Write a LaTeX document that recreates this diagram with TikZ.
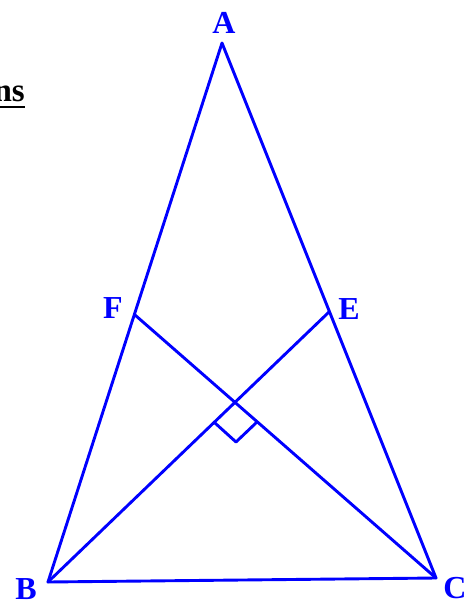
\documentclass[tikz,border=0pt]{standalone}
\usepackage{fontspec}
\setmainfont{Liberation Serif}
\begin{document}
\begin{tikzpicture}[x=1pt,y=-1pt,
  edge/.style={draw=blue,line width=2.9pt,line cap=round,line join=round},
  lbl/.style={text=blue,font=\fontsize{32}{32}\selectfont\bfseries,inner sep=0pt}]
\useasboundingbox (0,0) rectangle (472,603);
\clip (0,0) rectangle (472,603);
\coordinate (A) at (222,43);
\coordinate (B) at (48,582);
\coordinate (C) at (436,578);
\coordinate (F) at (135,315);
\coordinate (E) at (329,312);
\coordinate (O) at (236,403);
\coordinate (P) at (215,423);
\coordinate (Q) at (236,442);
\coordinate (R) at (257,422);
\draw[edge] (A) -- (B) -- (C) -- cycle;
\draw[edge] (B) -- (E);
\draw[edge] (C) -- (F);
\draw[edge] (P) -- (Q) -- (R);
\node[lbl] (lA) at (224,23) {A};
\node[lbl] (lF) at (113,308) {F};
\node[lbl] (lE) at (349,309) {E};
\node[lbl] (lB) at (26,589) {B};
\node[lbl] (lC) at (455,588) {C};
\node[anchor=base east,inner sep=0pt,font=\fontsize{33}{33}\selectfont\bfseries] (t) at (25,101) {ns};
\draw[black,line width=2pt] (-5,106.5) -- (25,106.5);
\end{tikzpicture}
\end{document}
